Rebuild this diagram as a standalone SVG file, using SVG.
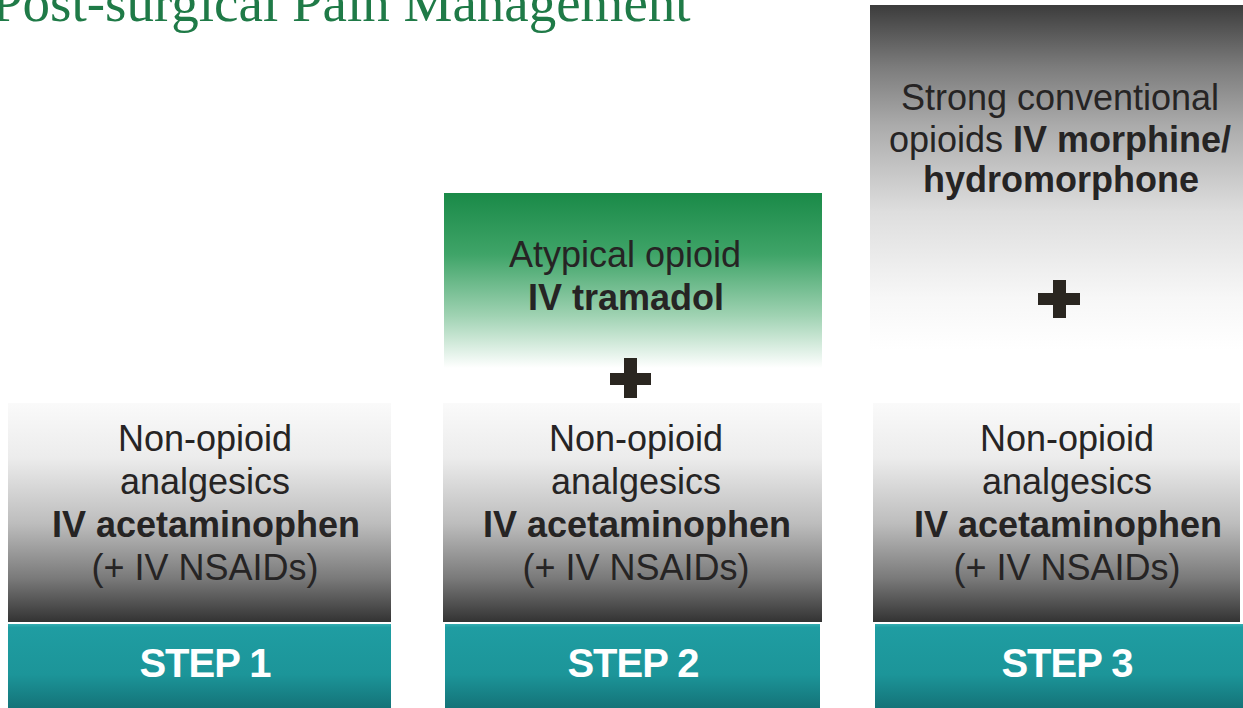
<svg xmlns="http://www.w3.org/2000/svg" width="1243" height="708" viewBox="0 0 1243 708">
<defs>
<linearGradient id="gGray" x1="0" y1="0" x2="0" y2="1">
<stop offset="0" stop-color="#fafafa"/>
<stop offset="0.25" stop-color="#ececec"/>
<stop offset="0.55" stop-color="#bdbdbd"/>
<stop offset="0.8" stop-color="#7a7a7a"/>
<stop offset="1" stop-color="#333333"/>
</linearGradient>
<linearGradient id="gGreen" x1="0" y1="0" x2="0" y2="1">
<stop offset="0" stop-color="#1a8a48"/>
<stop offset="0.35" stop-color="#3fa468"/>
<stop offset="0.7" stop-color="#9fd2b2"/>
<stop offset="1" stop-color="#ffffff"/>
</linearGradient>
<linearGradient id="gTop3" x1="0" y1="0" x2="0" y2="1">
<stop offset="0" stop-color="#3c3c3c"/>
<stop offset="0.18" stop-color="#7c7c7c"/>
<stop offset="0.35" stop-color="#ababab"/>
<stop offset="0.6" stop-color="#dedede"/>
<stop offset="0.85" stop-color="#f7f7f7"/>
<stop offset="1" stop-color="#ffffff"/>
</linearGradient>
<linearGradient id="gTeal" x1="0" y1="0" x2="0" y2="1">
<stop offset="0" stop-color="#35aeb2"/>
<stop offset="0.04" stop-color="#1f9da2"/>
<stop offset="0.6" stop-color="#1c9599"/>
<stop offset="1" stop-color="#147378"/>
</linearGradient>
</defs>
<style>
.t{font-family:"Liberation Sans",Arial,sans-serif;font-size:36px;fill:#262424;text-anchor:middle}
.b{font-weight:bold}
.s{font-family:"Liberation Sans",Arial,sans-serif;font-size:40px;font-weight:bold;fill:#ffffff;text-anchor:middle;letter-spacing:-1px}
.title{font-family:"Liberation Serif","Times New Roman",serif;font-size:55px;fill:#1f7a47}
.plus{fill:#2a2620}
</style>
<rect width="1243" height="708" fill="#ffffff"/>
<text class="title" x="-8" y="21">Post-surgical Pain Management</text>

<g id="step1">
<rect x="8" y="403" width="383" height="219" fill="url(#gGray)"/>
<text class="t" x="205" y="451">Non-opioid</text>
<text class="t" x="205" y="494">analgesics</text>
<text class="t b" x="206" y="537">IV acetaminophen</text>
<text class="t" x="205" y="580">(+ IV NSAIDs)</text>
<rect x="8" y="624" width="383" height="84" fill="url(#gTeal)"/>
<text class="s" x="205" y="677">STEP 1</text>
</g>

<g id="step2">
<rect x="444" y="193" width="378" height="175" fill="url(#gGreen)"/>
<text class="t" x="625" y="267">Atypical opioid</text>
<text class="t b" x="626" y="310">IV tramadol</text>
<g class="plus"><rect x="610" y="373" width="41" height="12"/><rect x="624" y="358" width="13" height="40"/></g>
<rect x="443" y="403" width="379" height="219" fill="url(#gGray)"/>
<text class="t" x="636" y="451">Non-opioid</text>
<text class="t" x="636" y="494">analgesics</text>
<text class="t b" x="637" y="537">IV acetaminophen</text>
<text class="t" x="636" y="580">(+ IV NSAIDs)</text>
<rect x="445" y="624" width="375" height="84" fill="url(#gTeal)"/>
<text class="s" x="633" y="677">STEP 2</text>
</g>

<g id="step3">
<rect x="870" y="5" width="373" height="345" fill="url(#gTop3)"/>
<text class="t" x="1060" y="110">Strong conventional</text>
<text class="t" x="1060" y="152">opioids <tspan class="b">IV morphine/</tspan></text>
<text class="t b" x="1061" y="192">hydromorphone</text>
<g class="plus"><rect x="1038" y="293" width="42" height="12"/><rect x="1053" y="280" width="13" height="38"/></g>
<rect x="873" y="403" width="367" height="219" fill="url(#gGray)"/>
<text class="t" x="1067" y="451">Non-opioid</text>
<text class="t" x="1067" y="494">analgesics</text>
<text class="t b" x="1068" y="537">IV acetaminophen</text>
<text class="t" x="1067" y="580">(+ IV NSAIDs)</text>
<rect x="875" y="624" width="368" height="84" fill="url(#gTeal)"/>
<text class="s" x="1067" y="677">STEP 3</text>
</g>
<g id="connectors"></g>
</svg>
